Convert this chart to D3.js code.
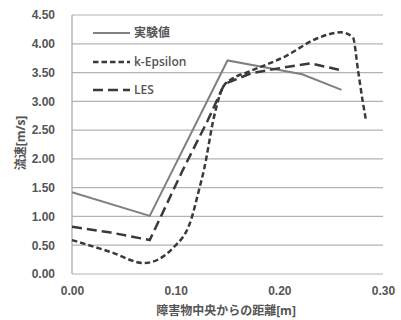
<!DOCTYPE html>
<html>
<head>
<meta charset="utf-8">
<script src="https://cdn.jsdelivr.net/npm/d3@7"></script>
<style>
  body { margin: 0; background: #fff; }
  text { fill: #555; }
</style>
</head>
<body>
<script>
// 実験値 / k-Epsilon / LES
const expX = [0, 0.075, 0.15, 0.222, 0.26];
const expY = [1.42, 1.01, 3.71, 3.47, 3.20];

const keX = [0, 0.0376, 0.0695, 0.0984, 0.1148, 0.1225, 0.1273, 0.137, 0.1457, 0.1553, 0.1698, 0.2045, 0.2373, 0.2595, 0.271, 0.2759, 0.2807, 0.2836];
const keY = [0.59, 0.38, 0.19, 0.47, 0.94, 1.46, 1.81, 2.73, 3.25, 3.40, 3.51, 3.77, 4.10, 4.20, 4.11, 3.54, 2.97, 2.67];

const lesX = [0, 0.0375, 0.075, 0.107, 0.131, 0.147, 0.173, 0.2016, 0.2305, 0.2595];
const lesY = [0.82, 0.72, 0.59, 1.81, 2.67, 3.30, 3.49, 3.58, 3.66, 3.54];

const yTicks = [0, 0.5, 1, 1.5, 2, 2.5, 3, 3.5, 4, 4.5];
const xTicks = [0, 0.1, 0.2, 0.3];
const legendNames = ["実験値", "k-Epsilon", "LES"];

const width = 401, height = 320;
const svg = d3.select("body").append("svg")
    .attr("width", width)
    .attr("height", height)
    .style("font-family", "'Open Sans', 'Noto Sans CJK JP', sans-serif");

const x = d3.scaleLinear().domain([0, 0.3]).range([72, 383]);
const y = d3.scaleLinear().domain([0, 4.5]).range([274, 15]);

// grid
svg.append("g")
    .selectAll("line")
    .data(yTicks)
    .enter()
    .append("line")
    .attr("x1", x(0))
    .attr("x2", x(0.3))
    .attr("y1", d => y(d))
    .attr("y2", d => y(d))
    .attr("stroke", "#b3b3b3")
    .attr("stroke-width", 1.2);

svg.append("line")
    .attr("x1", x(0)).attr("x2", x(0))
    .attr("y1", y(0)).attr("y2", y(4.5))
    .attr("stroke", "#a6a6a6")
    .attr("stroke-width", 1.2);

// y ticks
const yAxis = svg.append("g")
    .attr("transform", `translate(${x(0)},0)`)
    .call(d3.axisLeft(y).tickValues(yTicks).tickFormat(d3.format(".2f")).tickSize(0).tickPadding(17));
yAxis.select(".domain").remove();
yAxis.selectAll("text")
    .style("font-size", "12px")
    .style("font-weight", "600")
    .style("fill", "#555");

// x ticks
const xAxis = svg.append("g")
    .attr("transform", `translate(0,${y(0)})`)
    .call(d3.axisBottom(x).tickValues(xTicks).tickFormat(d3.format(".2f")).tickSize(0).tickPadding(12));
xAxis.select(".domain").remove();
xAxis.selectAll("text")
    .style("font-size", "12px")
    .style("font-weight", "600")
    .style("fill", "#555");

// axis titles
svg.append("text")
    .attr("transform", "translate(25,143) rotate(-90)")
    .attr("text-anchor", "middle")
    .style("font-size", "12px")
    .style("font-weight", "bold")
    .text("流速[m/s]");

svg.append("text")
    .attr("x", 226)
    .attr("y", 315)
    .attr("text-anchor", "middle")
    .style("font-size", "12px")
    .style("font-weight", "bold")
    .text("障害物中央からの距離[m]");

// lines
const series = [
    { xs: expX, ys: expY, color: "#808080", w: 2, dash: null, curve: d3.curveLinear },
    { xs: keX, ys: keY, color: "#3a3a3a", w: 2.5, dash: "5.5,3", curve: d3.curveMonotoneX },
    { xs: lesX, ys: lesY, color: "#3a3a3a", w: 2.5, dash: "10,5", curve: d3.curveLinear }
];

series.forEach(s => {
    const pts = s.xs.map((v, i) => [v, s.ys[i]]);
    const line = d3.line()
        .x(d => x(d[0]))
        .y(d => y(d[1]))
        .curve(s.curve);
    svg.append("path")
        .datum(pts)
        .attr("fill", "none")
        .attr("stroke", s.color)
        .attr("stroke-width", s.w)
        .attr("stroke-dasharray", s.dash)
        .attr("d", line);
});

// legend
const legendY = [33, 62, 90];
series.forEach((s, i) => {
    svg.append("line")
        .attr("x1", 93).attr("x2", 130)
        .attr("y1", legendY[i]).attr("y2", legendY[i])
        .attr("stroke", s.color)
        .attr("stroke-width", s.w)
        .attr("stroke-dasharray", s.dash);
    svg.append("text")
        .attr("x", 134)
        .attr("y", legendY[i] + 4)
        .style("font-size", "12px")
        .style("font-weight", "600")
        .text(legendNames[i]);
});
</script>
</body>
</html>
